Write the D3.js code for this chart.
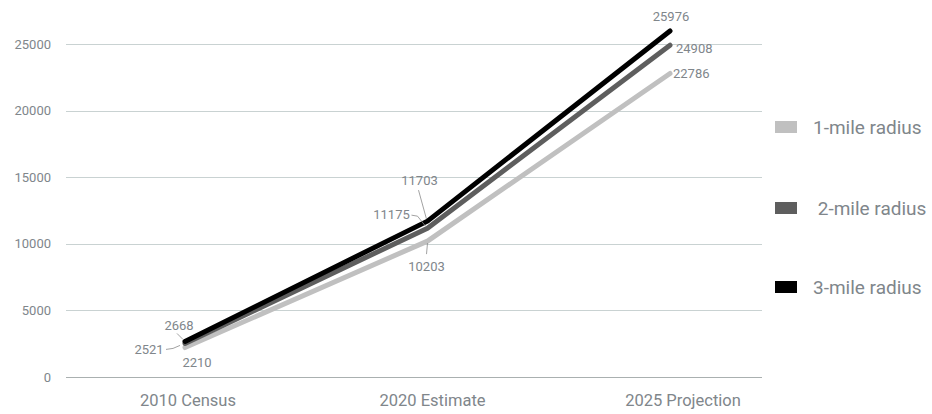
<!DOCTYPE html>
<html><head><meta charset="utf-8">
<script src="https://cdn.jsdelivr.net/npm/d3@7"></script>
<style>
html,body{margin:0;padding:0;background:#fff;}
svg{display:block;font-family:Roboto,"Noto Sans",sans-serif;}
</style></head>
<body><svg id="c" width="932" height="414"></svg>
<script>
const categories = ["2010 Census", "2020 Estimate", "2025 Projection"];
const seriesNames = ["1-mile radius", " 2-mile radius", "3-mile radius"];
const oneMile = [2210, 10203, 22786];
const twoMile = [2521, 11175, 24908];
const threeMile = [2668, 11703, 25976];
const yTicks = [0, 5000, 10000, 15000, 20000, 25000];
const colors = ["#c0c0c0", "#5e5e5e", "#000000"];

const series = [oneMile, twoMile, threeMile];
const svg = d3.select("#c");
const textColor = "#80868b";

const y = d3.scaleLinear().domain([0, 25000]).range([377, 44]);
const x = d3.scalePoint().domain(categories).range([185, 670]);

// gridlines
svg.append("g").selectAll("line").data(yTicks).join("line")
  .attr("x1", 66).attr("x2", 762)
  .attr("y1", d => Math.round(y(d)) + 0.5).attr("y2", d => Math.round(y(d)) + 0.5)
  .attr("stroke", d => d === 0 ? "#aab0b0" : "#c9d2d2").attr("stroke-width", 1);

// y tick labels
svg.append("g").selectAll("text").data(yTicks).join("text")
  .attr("x", 51).attr("y", d => y(d)).attr("dy", "0.35em")
  .attr("text-anchor", "end").attr("font-size", 13).attr("fill", textColor)
  .text(d => d);

// x labels
const xLabelShift = [3, 5, 13];
svg.append("g").selectAll("text").data(categories).join("text")
  .attr("x", (d, i) => x(d) + xLabelShift[i]).attr("y", 406)
  .attr("text-anchor", "middle").attr("font-size", 16.5).attr("fill", textColor)
  .text(d => d);

// lines
const line = d3.line().x((d, i) => x(categories[i])).y(d => y(d));
svg.append("g").selectAll("path").data(series).join("path")
  .attr("d", d => line(d))
  .attr("fill", "none")
  .attr("stroke", (d, i) => colors[i])
  .attr("stroke-width", 5)
  .attr("stroke-linecap", "round").attr("stroke-linejoin", "round");

// data label placement [series][category] = [dx, dy, anchor, leader points]
const placement = [
  [ [12, 15, "middle", null],
    [-1, 25, "middle", [[0, 2], [-1, 13]]],
    [3, 0, "start", null] ],
  [ [-36, 6, "middle", [[-19, 6], [-12, 5], [-5, 2]]],
    [-36, -14, "middle", [[-16, -13], [-10, -12], [-2, -2]]],
    [6, 3, "start", null] ],
  [ [-6, -16, "middle", [[-8, -8], [-2, -2]]],
    [-8, -41, "middle", [[-9, -31], [-1, -2]]],
    [1, -15, "middle", null] ]
];
const lg = svg.append("g");
series.forEach((vals, s) => {
  vals.forEach((v, c) => {
    const px = x(categories[c]), py = y(v);
    const [dx, dy, anchor, leader] = placement[s][c];
    if (leader) {
      lg.append("path")
        .attr("d", d3.line()(leader.map(p => [px + p[0], py + p[1]])))
        .attr("fill", "none").attr("stroke", "#8a8a8a").attr("stroke-width", 0.8);
    }
    lg.append("text")
      .attr("x", px + dx).attr("y", py + dy).attr("dy", "0.35em")
      .attr("text-anchor", anchor).attr("font-size", 13).attr("fill", textColor)
      .text(v);
  });
});

// legend
const legY = [127, 208, 287];
const leg = svg.append("g").selectAll("g").data(seriesNames).join("g")
  .attr("transform", (d, i) => `translate(775,${legY[i]})`);
leg.append("rect").attr("x", 0).attr("y", -6).attr("width", 22).attr("height", 12)
  .attr("fill", (d, i) => colors[i]);
leg.append("text").attr("x", 38).attr("y", 0).attr("dy", "0.35em")
  .attr("font-size", 19).attr("fill", textColor)
  .attr("xml:space", "preserve").style("white-space", "pre")
  .text(d => d);
</script></body></html>
